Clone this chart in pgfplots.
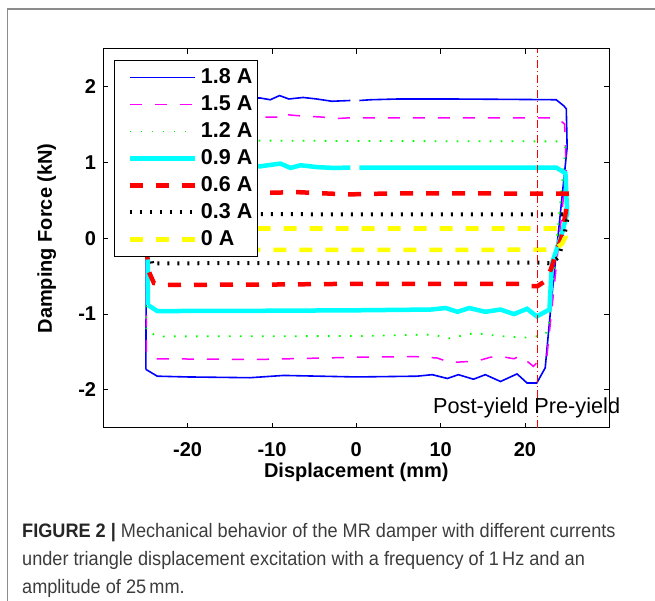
\documentclass[border=0pt]{standalone}
\usepackage{pgfplots}
\pgfplotsset{compat=1.18}
\usepackage{fontspec}
\setmainfont{Liberation Sans}
\newfontfamily\plotfont{Liberation Sans}
\newfontfamily\capfont[FakeStretch=0.93]{Liberation Sans}
\definecolor{capgray}{RGB}{60,60,60}
\definecolor{framegray}{RGB}{140,140,140}
\definecolor{mblue}{RGB}{0,0,255}
\definecolor{mmagenta}{RGB}{255,0,255}
\definecolor{mgreen}{RGB}{0,255,0}
\definecolor{mcyan}{RGB}{0,255,255}
\definecolor{mred}{RGB}{255,0,0}
\definecolor{myellow}{RGB}{255,255,0}
\begin{document}
\begin{tikzpicture}
\begin{axis}[
  at={(103.3pt,173.3pt)}, anchor=south west,
  scale only axis, width=506pt, height=378.7pt,
  xmin=-30, xmax=30, ymin=-2.5, ymax=2.5,
  xtick={-20,-10,0,10,20}, xticklabels={-20\hspace{14pt},-10\hspace{14pt},0,10,20},
  ytick={-2,-1,0,1,2}, yticklabels={-2\hspace{6pt},-1\hspace{6pt},0,1,2},
  tick align=inside, major tick length=5pt,
  axis line style={line width=1pt, black},
  every tick/.style={black, line width=0.8pt},
  ticklabel style={font=\plotfont\bfseries\fontsize{20}{24}\selectfont},
  yticklabel style={anchor=east, inner xsep=0pt, xshift=-7pt},
  xticklabel style={anchor=north, inner ysep=0pt, yshift=-15pt},
  xlabel={Displacement (mm)}, ylabel={Damping Force (kN)},
  label style={font=\plotfont\bfseries\fontsize{20}{24}\selectfont, inner sep=0pt},
  xlabel style={at={(axis description cs:0.5,0)}, anchor=base, yshift=-50pt},
  ylabel style={at={(axis description cs:-0.1014,0.5)}, anchor=base, rotate=0},
  unbounded coords=jump,
  legend style={at={(0.0211,0.971)}, anchor=north west, draw=black, line width=1pt,
    fill=white, font=\plotfont\bfseries\fontsize{21.5}{26}\selectfont,
    inner xsep=2pt, inner ysep=3.5pt,
    nodes={inner xsep=3pt, inner ysep=3pt, text height=16.5pt, text depth=4.5pt},
    cells={anchor=west}, row sep=0pt},
  legend image code/.code={\path (-11pt,0pt) (66pt,0pt); \draw[#1] (0pt,0pt) -- (65pt,0pt);},
]
\addplot[mblue, line width=1.6pt] coordinates {
(-24.95,-1.73) (-24.9,0) (-24.8,1.72) (-24.2,1.85) (-20,1.85) (-15,1.85) (-11.4,1.853) (-10.2,1.83) (-9.1,1.885) (-8.0,1.84) (-6.3,1.86) (-4.7,1.84) (-2.9,1.81) (-0.7,1.82) (-0.2,nan) (0.36,1.82) (1.7,1.83) (5,1.84) (11,1.84) (18,1.835) (23.7,1.83) (24.6,1.75) (24.9,1.71) (25.0,1.2) (23.2,-0.75) (22.4,-1.71) (21.4,-1.91) (20.25,-1.91) (19.06,-1.79) (17.1,-1.89) (15.3,-1.80) (13.9,-1.86) (12.1,-1.80) (10.8,-1.85) (9.0,-1.80) (7.2,-1.82) (0,-1.83) (-8.6,-1.81) (-12.6,-1.84) (-20,-1.83) (-23.6,-1.82) (-24.95,-1.73)
};
\addlegendentry{1.8 A}
\addplot[mmagenta, line width=1.5pt, dash pattern=on 12pt off 13pt] coordinates {
(-24.9,-1.5) (-24.85,1.5) (-24.3,1.6) (-11,1.6) (-9.1,1.6) (-8.8,1.65) (-8.0,1.63) (-7.0,1.62) (-3.9,1.6) (-2.7,1.58) (-1.0,1.59) (5,1.59) (23.8,1.59) (24.7,1.51) (24.9,0.9) (22.6,-1.56) (21.6,-1.62) (21.0,-1.69) (19.45,-1.55) (18.7,-1.59) (17.2,-1.56) (15.9,-1.57) (14.3,-1.62) (11.15,-1.64) (9.6,-1.58) (6.8,-1.56) (0,-1.57) (-12,-1.6) (-23.6,-1.59) (-24.2,-1.535) (-24.9,-1.5)
};
\addlegendentry{1.5 A}
\addplot[mgreen, line width=1.8pt, dash pattern=on 1.6pt off 9.4pt] coordinates {
(-24.9,-1.2) (-24.85,1.2) (-24.2,1.29) (-10,1.29) (0,1.285) (23.9,1.28) (24.8,1.2) (22.8,-1.2) (22.3,-1.28) (20,-1.31) (17,-1.29) (14,-1.25) (11,-1.32) (9,-1.27) (0,-1.29) (-23.7,-1.295) (-24.9,-1.2)
};
\addlegendentry{1.2 A}
\addplot[mcyan, line width=4.5pt] coordinates {
(-24.7,-0.88) (-24.75,0.9) (-24.3,0.95) (-11.4,0.951) (-9.0,0.987) (-7.8,0.93) (-6.6,0.965) (-4.6,0.94) (-2.7,0.93) (-0.7,0.934) (-0.2,nan) (0.36,0.935) (10,0.935) (23.7,0.935) (24.8,0.86) (25.0,0.33) (24.4,0.07) (23.2,-0.33) (22.9,-0.94) (21.4,-1.03) (20.25,-0.93) (18.7,-1.0) (17.1,-0.94) (15.3,-0.97) (13.4,-0.92) (12.0,-0.97) (10.6,-0.92) (8.8,-0.94) (0,-0.95) (-12.6,-0.957) (-23.6,-0.96) (-24.7,-0.88)
};
\addlegendentry{0.9 A}
\addplot[mred, line width=4.5pt, dash pattern=on 13pt off 13pt] coordinates {
(-24.8,-0.22) (-24.8,0.5) (-24.3,0.6) (-11,0.6) (-7.0,0.61) (-1,0.58) (5,0.595) (24.2,0.59) (24.95,0.59) (25.0,0.45) (24.3,0.0) (23.6,-0.22) (23.2,-0.37) (22.6,-0.55) (21.5,-0.63) (20.6,-0.63) (19.9,-0.6) (10,-0.6) (0,-0.6) (-10,-0.61) (-23.0,-0.615) (-24.0,-0.59) (-24.6,-0.44) (-24.8,-0.22)
};
\addlegendentry{0.6 A}
\addplot[black, line width=4pt, dash pattern=on 2pt off 8pt] coordinates {
(-24.2,-0.33) (-24.6,0) (-24.5,0.31) (-24,0.32) (24.5,0.315) (25.07,0.28) (24.6,0.0) (24.0,-0.25) (23.0,-0.33) (21.8,-0.32) (-24.2,-0.33)
};
\addlegendentry{0.3 A}
\addplot[myellow, line width=4.5pt, dash pattern=on 13pt off 13pt] coordinates {
(-24.8,-0.15) (-24.8,0.1) (-24.3,0.13) (24.2,0.13) (24.8,0.02) (24.4,-0.07) (23.5,-0.15) (-24.8,-0.155)
};
\addlegendentry{0 A}
\addplot[mred, line width=0.8pt, dash pattern=on 8pt off 3pt on 1pt off 3pt, forget plot] coordinates {(21.5,-2.5) (21.5,2.5)};
\end{axis}
\node[anchor=base west, inner sep=0pt, font=\plotfont\fontsize{21.7}{26}\selectfont] at (433pt,187pt) {Post-yield Pre-yield};
\draw[framegray, line width=1.2pt] (7.5pt,0pt) -- (7.5pt,592pt) -- (655pt,592pt);
\node[anchor=base west, inner sep=0pt, text=capgray, font=\capfont\fontsize{19.5}{24}\selectfont] at (22pt,63pt) {{\color{black!85}\bfseries FIGURE 2 |} Mechanical behavior of the MR damper with different currents};
\node[anchor=base west, inner sep=0pt, text=capgray, font=\capfont\fontsize{19.5}{24}\selectfont] at (22pt,35pt) {under triangle displacement excitation with a frequency of 1\,Hz and an};
\node[anchor=base west, inner sep=0pt, text=capgray, font=\capfont\fontsize{19.5}{24}\selectfont] at (22pt,7pt) {amplitude of 25\,mm.};
\pgfresetboundingbox
\path[use as bounding box] (0pt,0pt) rectangle (655pt,601pt);
\end{tikzpicture}
\end{document}
